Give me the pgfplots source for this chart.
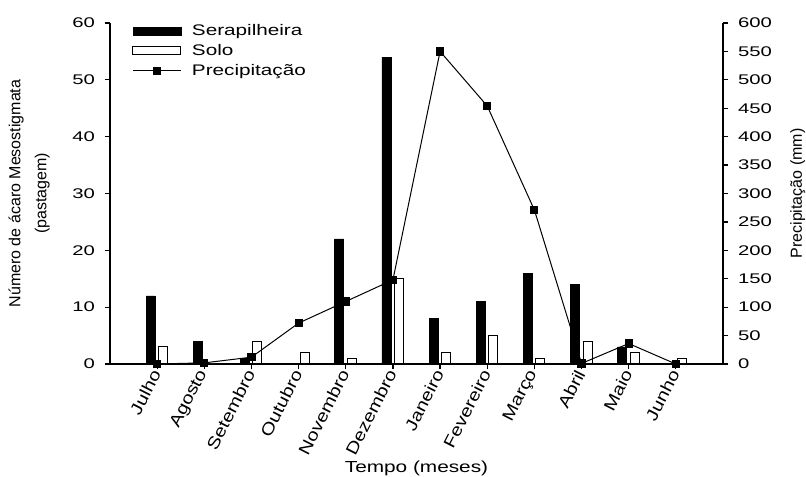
\documentclass[border=0pt]{standalone}
\usepackage{fontspec}
\setmainfont{Liberation Sans}
\newfontfamily\tickfont[FakeStretch=1.45]{Liberation Sans}
\newfontfamily\legfont[FakeStretch=1.35]{Liberation Sans}
\newfontfamily\xlabfont[FakeStretch=1.3]{Liberation Sans}
\usepackage{graphicx}
\usepackage{pgfplots}
\usepackage{pgfplotstable}
\pgfplotsset{compat=1.18}
\newcommand\sx[1]{\scalebox{1.2}[1]{#1}}

\pgfplotstableread{
x sera solo prec
0 12 3 0
1 4 0 2
2 1 4 12
3 0 2 72
4 22 1 110
5 54 15 148
6 8 2 550
7 11 5 454
8 16 1 271
9 14 4 1
10 3 2 36
11 0 1 0
}\data

\begin{document}
\begin{tikzpicture}
\path[use as bounding box] (-82.5pt,-84.75pt) rectangle (522pt,273pt);
\begin{axis}[
  scale only axis, width=459.75pt, height=255.75pt,
  at={(0,0)}, anchor=south west,
  xmin=-1, xmax=12, ymin=0, ymax=60,
  axis y line*=left, axis x line*=bottom,
  axis line style={line width=0.9pt},
  tick style={black, line width=0.9pt},
  tick align=outside, major tick length=4pt,
  xtick={0,...,11},
  xticklabels={\sx{Julho},\sx{Agosto},\sx{Setembro},\sx{Outubro},\sx{Novembro},\sx{Dezembro},\sx{Janeiro},\sx{Fevereiro},\sx{Março},\sx{Abril},\sx{Maio},\sx{Junho}},
  xticklabel style={rotate=63, anchor=east, font=\fontsize{12.5}{14}\selectfont, inner sep=1.5pt},
  ytick={0,10,...,60},
  yticklabel style={font=\tickfont\fontsize{10.5}{12}\selectfont, xshift=-3.75pt},
  /pgf/number format/assume math mode=true,
  ylabel={Número de ácaro Mesostigmata\\(pastagem)},
  ylabel style={at={(axis description cs:-0.132,0.5)}, anchor=center, align=center, font=\fontsize{12}{19.5}\selectfont},
  xlabel={Tempo (meses)},
  xlabel style={at={(axis description cs:0.5,-0.305)}, anchor=center, font=\xlabfont\fontsize{12}{14}\selectfont},
  clip=false,
]
\addplot[ybar, bar width=6.75pt, bar shift=-4.9pt, fill=black, draw=black] table[x=x, y=sera] {\data};
\addplot[ybar, bar width=6.75pt, bar shift=4.5pt, fill=white, draw=black, line width=0.75pt] table[x=x, y=solo] {\data};
\end{axis}
\begin{axis}[
  scale only axis, width=459.75pt, height=255.75pt,
  at={(0,0)}, anchor=south west,
  xmin=-1, xmax=12, ymin=0, ymax=600,
  axis y line*=right, axis x line=none,
  axis line style={line width=0.9pt},
  tick style={black, line width=0.9pt},
  tick align=outside, major tick length=4pt,
  ytick={0,50,...,600},
  yticklabel style={font=\tickfont\fontsize{10.5}{12}\selectfont, xshift=3.75pt},
  /pgf/number format/assume math mode=true,
  ylabel={Precipitação (mm)},
  ylabel style={at={(axis description cs:1.122,0.5)}, anchor=center, font=\fontsize{12}{14}\selectfont},
  clip=false,
  legend style={at={(axis description cs:0.0359,1.0)}, anchor=north west, draw=none, fill=none,
    inner sep=0pt, row sep=3pt, font=\legfont\fontsize{11.5}{13}\selectfont,
    nodes={inner sep=1pt, anchor=west}},
  legend cell align=left,
]
\addlegendimage{legend image code/.code={\draw[black, fill=black] (0pt,-3pt) rectangle (36pt,3pt); \path (43pt,0pt);}}
\addlegendentry{Serapilheira}
\addlegendimage{legend image code/.code={\draw[black, fill=white, line width=0.75pt] (0pt,-3pt) rectangle (36pt,3pt); \path (43pt,0pt);}}
\addlegendentry{Solo}
\addplot[black, line width=0.75pt, mark=square*, mark size=2.7pt,
  legend image code/.code={\draw[black, line width=0.75pt] (0pt,0pt) -- (36pt,0pt); \fill[black] (15.3pt,-2.7pt) rectangle (20.7pt,2.7pt); \path (43pt,0pt);}]
  table[x=x, y=prec] {\data};
\addlegendentry{Precipitação}
\end{axis}
\end{tikzpicture}
\end{document}
